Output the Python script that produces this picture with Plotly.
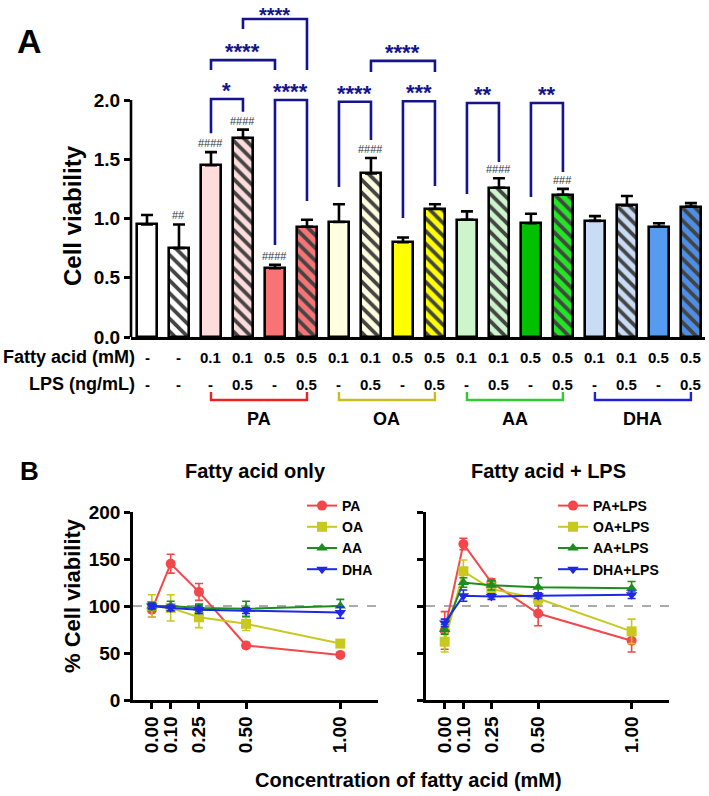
import plotly.graph_objects as go

W, H = 709, 796
FONT = "Liberation Sans, Arial, sans-serif"
NAVY = "#14148c"

# ---------------- Panel A data ----------------
bar_pos = list(range(18))
fatty_acid_row = ["-", "-", "0.1", "0.1", "0.5", "0.5", "0.1", "0.1", "0.5", "0.5",
                  "0.1", "0.1", "0.5", "0.5", "0.1", "0.1", "0.5", "0.5"]
lps_row = ["-", "-"] + ["-", "0.5", "-", "0.5"] * 4
viability = [0.95, 0.75, 1.45, 1.68, 0.58, 0.93, 0.97, 1.38, 0.80, 1.08,
             0.99, 1.26, 0.96, 1.20, 0.98, 1.11, 0.93, 1.10]
viability_err = [0.08, 0.20, 0.11, 0.07, 0.03, 0.06, 0.15, 0.13, 0.04, 0.04,
                 0.07, 0.08, 0.08, 0.05, 0.04, 0.08, 0.03, 0.03]
hash_marks = ["", "##", "####", "####", "####", "", "", "####", "", "",
              "", "####", "", "###", "", "", "", ""]
bar_colors = ["#ffffff", "#ffffff", "#ffdcdc", "#ffdcdc", "#f87474", "#f87474",
              "#ffffdf", "#ffffdf", "#ffff00", "#ffff00", "#ccf5cc", "#ccf5cc",
              "#00c000", "#22e622", "#c8dcf5", "#c8dcf5", "#559bf0", "#4d8fe6"]
hatch_color = ["#000000", "#000000", "#000000", "#1a1a1a", "#000000", "#1a0000",
               "#000000", "#000000", "#000000", "#000000", "#000000", "#2a1030",
               "#000000", "#003300", "#000000", "#101830", "#000000", "#0a1a40"]
hatch = ["", "\\"] * 9
group_names = ["PA", "OA", "AA", "DHA"]
group_start = [2, 6, 10, 14]
group_end = [5, 9, 13, 17]
group_colors = ["#ee2020", "#c8bc20", "#30cc30", "#2020d8"]
y_ticks_a = [0, 0.5, 1.0, 1.5, 2.0]

# significance brackets: (left bar, right bar, label, bracket height, left leg end, right leg end)
sig_left = [2, 4, 2, 3, 6, 8, 7, 10, 12]
sig_right = [3, 5, 4, 5, 7, 9, 9, 11, 13]
sig_label = ["*", "****", "****", "****", "****", "***", "****", "**", "**"]
sig_top = [2.008, 2.0, 2.337, 2.684, 1.985, 1.99, 2.33, 1.975, 1.975]
sig_leg_l = [1.72, 0.776, 2.253, 2.60, 1.266, 1.004, 2.236, 1.207, 1.181]
sig_leg_r = [1.90, 1.148, 2.253, 2.253, 1.662, 1.274, 2.236, 1.477, 1.392]

# ---------------- Panel B data ----------------
conc = [0.0, 0.10, 0.25, 0.50, 1.00]
conc_ticks = ["0.00", "0.10", "0.25", "0.50", "1.00"]
pa = [96, 145, 115, 58, 48]
pa_err = [8, 10, 9, 3, 2]
oa = [100, 98, 88, 81, 60]
oa_err = [12, 14, 11, 7, 3]
aa = [100, 100, 98, 97, 100]
aa_err = [4, 5, 4, 8, 7]
dha = [100, 98, 96, 95, 93]
dha_err = [3, 3, 4, 3, 6]
pa_lps = [74, 166, 125, 92, 63]
pa_lps_err = [20, 6, 4, 13, 12]
oa_lps = [62, 137, 118, 108, 73]
oa_lps_err = [11, 12, 7, 6, 13]
aa_lps = [75, 125, 122, 120, 119]
aa_lps_err = [5, 5, 5, 10, 7]
dha_lps = [82, 111, 110, 111, 112]
dha_lps_err = [4, 6, 3, 3, 4]
y_ticks_b = [0, 50, 100, 150, 200]

line_colors = {"PA": "#f2474b", "OA": "#c8c820", "AA": "#1e8c1e", "DHA": "#1e28e6"}
symbols = {"PA": "circle", "OA": "square", "AA": "triangle-up", "DHA": "triangle-down"}


def px(x):
    return x / W


def py(y):
    return 1 - y / H


fig = go.Figure()

# ---------- Panel A bars ----------
fig.add_trace(go.Bar(
    x=bar_pos, y=viability, width=0.64,
    marker=dict(color=bar_colors, line=dict(color="black", width=2.6),
                pattern=dict(shape=hatch, fillmode="overlay", fgcolor=hatch_color,
                             bgcolor=bar_colors, fgopacity=1, size=9, solidity=0.42)),
    error_y=dict(type="data", array=viability_err, arrayminus=[0] * 18,
                 symmetric=False, color="black", thickness=2.6, width=6),
    showlegend=False, xaxis="x", yaxis="y", hoverinfo="skip"))


# ---------- Panel B lines ----------
def add_series(xs, ys, es, ax, legend, label, key):
    c = line_colors[key]
    fig.add_trace(go.Scatter(
        x=xs, y=ys, name=label, mode="lines+markers",
        line=dict(color=c, width=2),
        marker=dict(symbol=symbols[key], size=10, color=c),
        error_y=dict(type="data", array=es, color=c, thickness=1.6, width=4),
        xaxis="x" + ax, yaxis="y" + ax, legend=legend))


add_series(conc, pa, pa_err, "2", "legend", "PA", "PA")
add_series(conc, oa, oa_err, "2", "legend", "OA", "OA")
add_series(conc, aa, aa_err, "2", "legend", "AA", "AA")
add_series(conc, dha, dha_err, "2", "legend", "DHA", "DHA")
add_series(conc, pa_lps, pa_lps_err, "3", "legend2", "PA+LPS", "PA")
add_series(conc, oa_lps, oa_lps_err, "3", "legend2", "OA+LPS", "OA")
add_series(conc, aa_lps, aa_lps_err, "3", "legend2", "AA+LPS", "AA")
add_series(conc, dha_lps, dha_lps_err, "3", "legend2", "DHA+LPS", "DHA")

shapes = []
annotations = []


def txt(x, y, text, size, xref="paper", yref="paper", xanchor="center", yanchor="middle",
        angle=0, color="black", bold=True, yshift=0):
    annotations.append(dict(x=x, y=y, xref=xref, yref=yref, text=text, showarrow=False,
                            xanchor=xanchor, yanchor=yanchor, textangle=angle, yshift=yshift,
                            font=dict(size=size, family=FONT, color=color,
                                      weight="bold" if bold else "normal")))


# y axis line for panel A (0..2)
shapes.append(dict(type="line", xref="paper", yref="y", x0=px(131), x1=px(131),
                   y0=0, y1=2.0, line=dict(color="black", width=2.6)))

# significance brackets
for l, r, lab, top, ll, lr in zip(sig_left, sig_right, sig_label, sig_top, sig_leg_l, sig_leg_r):
    shapes.append(dict(type="path", xref="x", yref="y",
                       path=f"M {l} {ll} L {l} {top} L {r} {top} L {r} {lr}",
                       line=dict(color=NAVY, width=2.6)))
    highest = top > 2.6
    txt((l + r) / 2, top, lab, 20 if highest else 22, xref="x", yref="y", yanchor="bottom",
        color=NAVY, yshift=-9 if highest else -6)

# hash marks
for i, (v, e, hm) in enumerate(zip(viability, viability_err, hash_marks)):
    if hm:
        txt(i, v + e, hm, 11, xref="x", yref="y", yanchor="bottom", color="#333333",
            bold=False, yshift=1)

# table rows
txt(px(137), py(357), "Fatty acid (mM)", 18, xanchor="right")
txt(px(137), py(384), "LPS (ng/mL)", 18, xanchor="right")
for i in bar_pos:
    txt(i, py(357), fatty_acid_row[i], 15, xref="x")
    txt(i, py(384), lps_row[i], 15, xref="x")

# group brackets
for g, s, e, c in zip(group_names, group_start, group_end, group_colors):
    shapes.append(dict(type="path", xref="x", yref="paper",
                       path=f"M {s} {py(392)} L {s} {py(400)} L {e} {py(400)} L {e} {py(392)}",
                       line=dict(color=c, width=2.4)))
    txt((s + e) / 2, py(419), g, 18, xref="x")

# panel labels and titles
txt(px(30), py(41), "A", 34)
txt(px(29), py(471), "B", 26)
txt(px(72), py(216), "Cell viability", 24, angle=-90)
txt(px(255), py(471), "Fatty acid only", 20)
txt(px(548), py(471), "Fatty acid + LPS", 20)
txt(px(72), py(596), "% Cell viability", 22, angle=-90)
txt(px(408), py(780), "Concentration of fatty acid (mM)", 20)

# dashed 100% lines
for ax in ["2", "3"]:
    shapes.append(dict(type="line", xref="x" + ax, yref="y" + ax, x0=-0.1, x1=1.2, y0=100, y1=100,
                       line=dict(color="#909090", width=1.3, dash="dash"), layer="below"))

tickfont = dict(size=19, family=FONT, weight="bold", color="black")
axis_common = dict(showgrid=False, zeroline=False, linecolor="black", linewidth=2.6,
                   ticks="outside", ticklen=6, tickwidth=2.6, tickcolor="black", automargin=False)
legend_common = dict(xanchor="left", yanchor="top", itemwidth=30, bgcolor="rgba(0,0,0,0)",
                     tracegroupgap=0, font=dict(size=14, family=FONT, weight="bold", color="black"))

fig.update_layout(
    template="none",
    width=W, height=H, margin=dict(l=0, r=0, t=0, b=0, pad=0, autoexpand=False),
    paper_bgcolor="white", plot_bgcolor="white",
    font=dict(family=FONT, color="black"),
    bargap=0,
    xaxis=dict(domain=[px(131), px(705)], range=[-0.5, 17.44], anchor="y", automargin=False,
               showgrid=False, zeroline=False, showline=True, linecolor="black", linewidth=2.6,
               ticks="", showticklabels=False),
    yaxis=dict(domain=[py(337), 1], range=[0, 2.844], anchor="x", showline=False, automargin=False,
               tickvals=y_ticks_a, ticktext=[f"{v:.1f}" for v in y_ticks_a], tickfont=tickfont,
               showgrid=False, zeroline=False, ticks="outside", ticklen=6, tickwidth=2.6,
               tickcolor="black"),
    xaxis2=dict(domain=[px(133), px(378)], range=[-0.1, 1.2], anchor="y2", showline=True,
                tickvals=conc, ticktext=conc_ticks, tickangle=-90, tickfont=tickfont, **axis_common),
    yaxis2=dict(domain=[py(700), py(512)], range=[0, 200], anchor="x2", showline=True,
                tickvals=y_ticks_b, tickfont=tickfont, **axis_common),
    xaxis3=dict(domain=[px(426), px(669)], range=[-0.1, 1.2], anchor="y3", showline=True,
                tickvals=conc, ticktext=conc_ticks, tickangle=-90, tickfont=tickfont, **axis_common),
    yaxis3=dict(domain=[py(700), py(512)], range=[0, 200], anchor="x3", showline=True,
                tickvals=y_ticks_b, showticklabels=False, **axis_common),
    legend=dict(x=px(302), y=py(490), **legend_common),
    legend2=dict(x=px(553), y=py(490), **legend_common),
    shapes=shapes, annotations=annotations,
)

fig.write_html("out.html")
